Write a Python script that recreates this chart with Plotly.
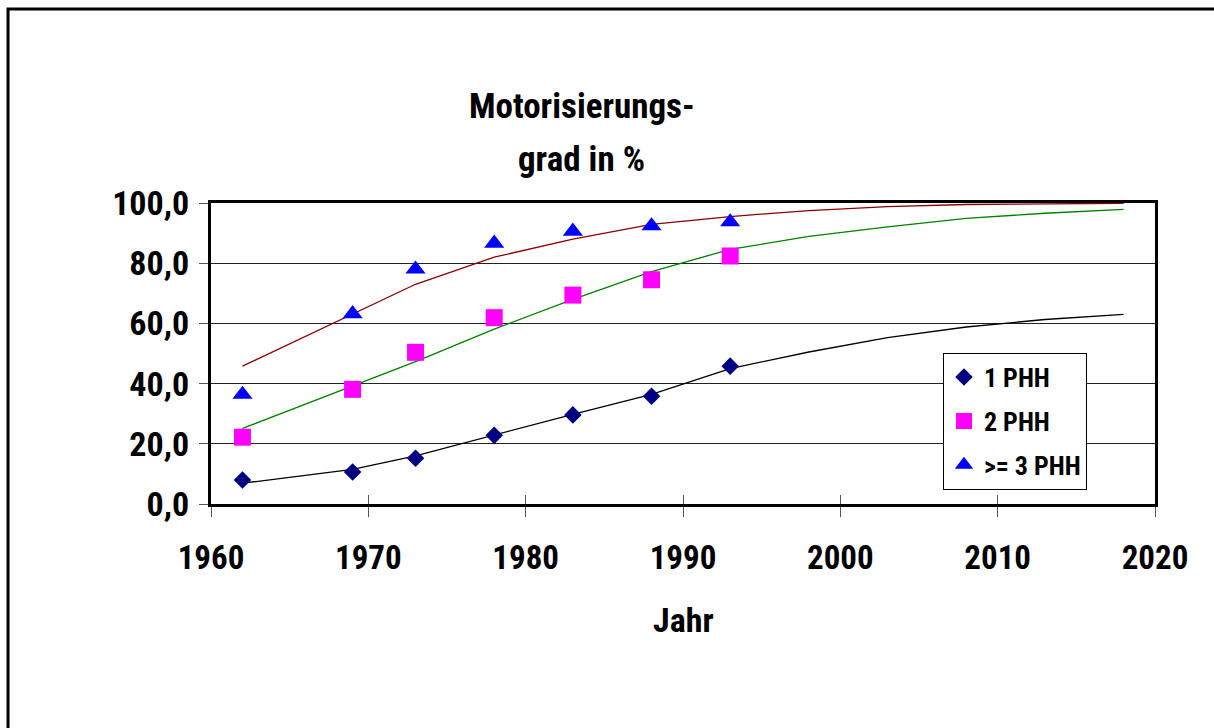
import plotly.graph_objects as go

# ---- data ----
years_obs = [1962, 1969, 1973, 1978, 1983, 1988, 1993]
phh1_obs = [8.0, 10.6, 15.2, 22.8, 29.6, 35.8, 45.8]
phh2_obs = [22.2, 38.1, 50.4, 61.9, 69.4, 74.5, 82.4]
phh3_obs = [36.4, 63.2, 78.0, 86.6, 90.6, 92.4, 93.7]

years_fit = [1962, 1969, 1973, 1978, 1983, 1988, 1993, 1998, 2003, 2008, 2013, 2018]
phh1_fit = [6.9, 11.5, 16.0, 23.0, 29.8, 36.4, 45.0, 50.5, 55.3, 58.8, 61.3, 63.0]
phh2_fit = [25.1, 39.2, 47.3, 58.1, 68.0, 77.2, 84.6, 88.9, 92.1, 94.9, 96.6, 97.9]
phh3_fit = [45.8, 63.2, 73.0, 82.0, 88.0, 92.9, 95.5, 97.5, 98.8, 99.5, 99.8, 99.9]

series_names = ["1 PHH", "2 PHH", ">= 3 PHH"]
x_ticks = [1960, 1970, 1980, 1990, 2000, 2010, 2020]
y_ticks = [0, 20, 40, 60, 80, 100]
y_ticktext = ["0,0", "20,0", "40,0", "60,0", "80,0", "100,0"]

FONT = "Roboto Condensed, Liberation Sans Narrow, Arial Narrow, Liberation Sans, sans-serif"

fig = go.Figure()

# trend lines
for yv, col in [(phh1_fit, "#000000"), (phh2_fit, "#008000"), (phh3_fit, "#8B0000")]:
    fig.add_trace(go.Scatter(x=years_fit, y=yv, mode="lines",
                             line=dict(color=col, width=1.3),
                             showlegend=False, hoverinfo="skip"))

# observed markers
markers = [
    (phh1_obs, "diamond", "#000080", 13.5),
    (phh2_obs, "square", "#FF00FF", 17),
    (phh3_obs, "triangle-up", "#0000FF", 17.5),
]
for i, (yv, sym, col, sz) in enumerate(markers):
    fig.add_trace(go.Scatter(x=years_obs, y=yv, mode="markers", name=series_names[i],
                             legendgroup=f"g{i}",
                             marker=dict(symbol=sym, color=col, size=sz,
                                         line=dict(width=0))))

# crossing tick marks (inside part)
fig.add_trace(go.Scatter(x=[None], y=[None], xaxis="x2", showlegend=False))

fig.update_layout(
    width=1214, height=728,
    margin=dict(l=211, r=59, t=203, b=224),
    paper_bgcolor="white", plot_bgcolor="white",
    font=dict(family=FONT, color="black"),
    showlegend=True,
    legend=dict(x=0.7754, y=0.5027, xanchor="left", yanchor="top",
                bgcolor="white", bordercolor="#000000", borderwidth=1,
                font=dict(family=FONT, size=26, color="black", weight="bold"),
                tracegroupgap=7, itemwidth=30),
    xaxis=dict(range=[1960, 2020], tickvals=x_ticks, ticktext=[str(v) for v in x_ticks],
               showgrid=False, zeroline=False,
               showline=True, linecolor="black", linewidth=3, mirror=True,
               ticks="outside", ticklen=10, tickwidth=1, tickcolor="#555555",
               ticklabelstandoff=12,
               tickfont=dict(family=FONT, size=33, color="black", weight="bold")),
    xaxis2=dict(range=[1960, 2020], overlaying="x", tickvals=x_ticks, showticklabels=False,
                showgrid=False, zeroline=False, showline=False,
                ticks="inside", ticklen=9, tickwidth=1, tickcolor="#555555",
                side="bottom", anchor="y"),
    yaxis=dict(range=[0, 100], tickvals=y_ticks, ticktext=y_ticktext,
               showgrid=True, gridcolor="#222222", gridwidth=1, zeroline=False,
               showline=True, linecolor="black", linewidth=3, mirror=True,
               ticks="outside", ticklen=9, tickwidth=1, tickcolor="#555555",
               ticklabelstandoff=3,
               tickfont=dict(family=FONT, size=34, color="black", weight="bold")),
    annotations=[
        dict(text="Motorisierungs-", xref="paper", yref="paper", x=0.393, y=1.319,
             xanchor="center", yanchor="middle", showarrow=False,
             font=dict(family=FONT, size=35, color="black", weight="bold")),
        dict(text="grad in %", xref="paper", yref="paper", x=0.393, y=1.146,
             xanchor="center", yanchor="middle", showarrow=False,
             font=dict(family=FONT, size=35, color="black", weight="bold")),
        dict(text="Jahr", xref="paper", yref="paper", x=0.5, y=-0.385,
             xanchor="center", yanchor="middle", showarrow=False,
             font=dict(family=FONT, size=34, color="black", weight="bold")),
    ],
    shapes=[
        dict(type="rect", xref="paper", yref="paper",
             x0=-0.2150, x1=1.08, y0=-0.78, y1=1.6445,
             line=dict(color="black", width=3), fillcolor="rgba(0,0,0,0)", layer="below"),
    ],
)

fig.write_html("out.html")
